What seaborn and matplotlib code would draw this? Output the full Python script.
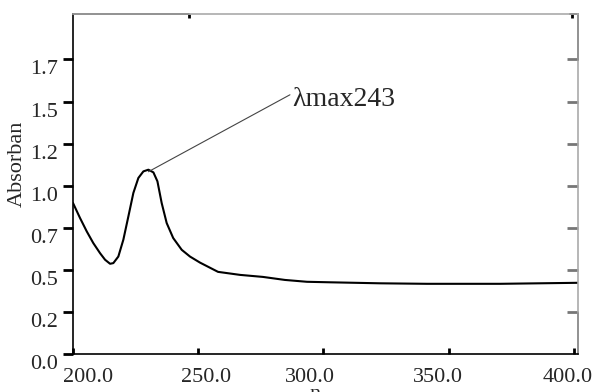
import matplotlib
matplotlib.use("Agg")
import matplotlib.pyplot as plt
import matplotlib.transforms as mtransforms
import seaborn as sns
import pandas as pd

wavelength = [200.0, 202.8, 205.5, 208.1, 210.8, 212.8, 214.8, 216.1, 218.1, 220.1,
              222.1, 224.1, 226.1, 228.1, 230.1, 232.1, 233.7, 235.4, 237.4, 240.0,
              243.4, 246.7, 250.7, 257.9, 266.7, 275.8, 284.6, 293.4, 302.6, 322.6,
              341.3, 370.5, 401.6]
absorbance = [0.897, 0.808, 0.728, 0.659, 0.599, 0.560, 0.536, 0.540, 0.579, 0.679,
              0.817, 0.957, 1.046, 1.085, 1.095, 1.079, 1.026, 0.897, 0.778, 0.689,
              0.619, 0.579, 0.543, 0.488, 0.470, 0.458, 0.440, 0.429, 0.426, 0.420,
              0.417, 0.417, 0.423]

x_ticks = [200, 250, 300, 350, 400]
x_tick_labels = ["200.0", "250.0", "300.0", "350.0", "400.0"]
y_ticks = [0.0, 0.25, 0.5, 0.75, 1.0, 1.25, 1.5, 1.75]
y_tick_labels = ["0.0", "0.2", "0.5", "0.7", "1.0", "1.2", "1.5", "1.7"]
peak_point = (230.1, 1.083)
line_end = (286.6, 1.54)
annot_text = "λmax243"
annot_text_pos = (287.4, 1.512)
x_label = "n"
y_label = "Absorban"

sns.set_style("white")
plt.rcParams["font.family"] = ["Liberation Serif", "DejaVu Serif"]

df = pd.DataFrame({"wl": wavelength, "abs": absorbance})

fig = plt.figure(figsize=(5.94, 3.92), dpi=100)
ax = fig.add_axes([73 / 594, 38 / 392, 505 / 594, 340 / 392])

sns.lineplot(data=df, x="wl", y="abs", ax=ax, color="black", lw=1.5,
             estimator=None, sort=False)

ax.set_xlim(200, 401.6)
ax.set_ylim(0, 2.02)

ax.set_xticks(x_ticks)
ax.set_xticklabels(x_tick_labels, fontsize=16)
ax.set_yticks(y_ticks)
ax.set_yticklabels(y_tick_labels, fontsize=16)

ax.tick_params(axis="y", direction="out", length=7.5, width=2, color="black", pad=3,
               left=True, right=False)
ax.tick_params(axis="x", direction="in", length=4.5, width=2, color="black", pad=10,
               bottom=True, top=False)

# shift y tick labels downward slightly
off_y = mtransforms.ScaledTranslation(0, -8 / 100, fig.dpi_scale_trans)
for lab in ax.get_yticklabels():
    lab.set_transform(lab.get_transform() + off_y)
# irregular x label offsets (pixels)
x_offsets = [15, 8, -14, -11, -6]
for lab, dx in zip(ax.get_xticklabels(), x_offsets):
    lab.set_transform(lab.get_transform() +
                      mtransforms.ScaledTranslation(dx / 100, 0, fig.dpi_scale_trans))

# spines
for s in ["left", "bottom"]:
    ax.spines[s].set_color("black")
    ax.spines[s].set_linewidth(1.2)
for s in ["top", "right"]:
    ax.spines[s].set_color("#aaaaaa")
    ax.spines[s].set_linewidth(1.2)
# black segments on top/right frame
ax.plot([0, 0.23], [1, 1], transform=ax.transAxes, color="black", lw=1.2, clip_on=False)
ax.plot([0.985, 1], [1, 1], transform=ax.transAxes, color="black", lw=1.2, clip_on=False)
ax.plot([1, 1], [1, 0.866], transform=ax.transAxes, color="black", lw=1.2, clip_on=False)
ax.plot([1, 1], [0, 0.122], transform=ax.transAxes, color="black", lw=1.2, clip_on=False)

# right inner gray ticks
ax2 = ax.secondary_yaxis("right")
ax2.set_yticks(y_ticks[1:])
ax2.set_yticklabels([])
ax2.tick_params(direction="in", length=8, width=2, color="#777777")
ax2.spines["right"].set_visible(False)
# top ticks
ax3 = ax.secondary_xaxis("top")
ax3.set_xticks([246.3, 399.2])
ax3.set_xticklabels([])
ax3.tick_params(direction="in", length=3, width=2, color="black")
ax3.spines["top"].set_visible(False)

ax.set_xlabel(x_label, fontsize=16)
ax.xaxis.set_label_coords(0.48, -0.092)
ax.xaxis.label.set_va("top")
ax.set_ylabel(y_label, fontsize=16)
ax.yaxis.set_label_coords(-0.092, 0.56)

ax.annotate("", xy=peak_point, xytext=line_end,
            arrowprops=dict(arrowstyle="-", color="#444444", lw=0.8,
                            shrinkA=0, shrinkB=0))
ax.text(annot_text_pos[0], annot_text_pos[1], annot_text, fontsize=20,
        va="center", ha="left")

fig.savefig("out.png", dpi=100)
